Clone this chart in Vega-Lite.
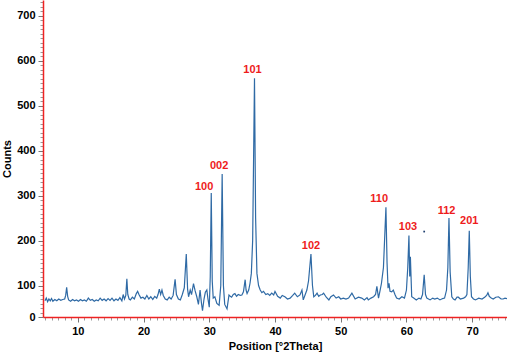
{
  "$schema": "https://vega.github.io/schema/vega-lite/v6.json",
  "autosize": {"type": "none"},
  "width": 464,
  "height": 317,
  "padding": {"left": 43, "top": 0, "right": 0, "bottom": 40},
  "background": "white",
  "config": {"view": {"stroke": null}, "font": "Liberation Sans"},
  "datasets": {
    "xrd": [
      {"t":5.0,"c":66},{"t":5.2,"c":72},{"t":5.4,"c":64},{"t":5.6,"c":70},{"t":5.8,"c":66},{"t":6.0,"c":71},{"t":6.2,"c":65},{"t":6.5,"c":69},{"t":6.8,"c":66},{"t":7.1,"c":70},{"t":7.4,"c":67},{"t":7.7,"c":69},{"t":8.0,"c":70},{"t":8.15,"c":78},{"t":8.3,"c":96},{"t":8.45,"c":76},{"t":8.6,"c":68},{"t":8.9,"c":65},{"t":9.2,"c":69},{"t":9.5,"c":66},{"t":9.8,"c":68},{"t":10.1,"c":65},{"t":10.4,"c":69},{"t":10.7,"c":66},{"t":11.0,"c":68},{"t":11.3,"c":65},{"t":11.6,"c":72},{"t":11.9,"c":67},{"t":12.2,"c":69},{"t":12.5,"c":65},{"t":12.8,"c":68},{"t":13.1,"c":66},{"t":13.4,"c":72},{"t":13.7,"c":67},{"t":14.0,"c":70},{"t":14.3,"c":66},{"t":14.6,"c":71},{"t":14.9,"c":67},{"t":15.2,"c":72},{"t":15.5,"c":66},{"t":15.8,"c":70},{"t":16.1,"c":67},{"t":16.4,"c":73},{"t":16.7,"c":66},{"t":16.9,"c":80},{"t":17.1,"c":70},{"t":17.3,"c":78},{"t":17.46,"c":115},{"t":17.6,"c":80},{"t":17.8,"c":70},{"t":18.0,"c":68},{"t":18.3,"c":74},{"t":18.6,"c":70},{"t":18.9,"c":82},{"t":19.1,"c":87},{"t":19.3,"c":80},{"t":19.6,"c":72},{"t":19.9,"c":74},{"t":20.2,"c":70},{"t":20.5,"c":78},{"t":20.8,"c":70},{"t":21.1,"c":75},{"t":21.4,"c":69},{"t":21.7,"c":76},{"t":22.0,"c":72},{"t":22.2,"c":80},{"t":22.4,"c":92},{"t":22.6,"c":80},{"t":22.8,"c":90},{"t":23.0,"c":78},{"t":23.3,"c":70},{"t":23.6,"c":68},{"t":23.9,"c":74},{"t":24.2,"c":70},{"t":24.5,"c":78},{"t":24.8,"c":114},{"t":25.0,"c":80},{"t":25.3,"c":70},{"t":25.6,"c":68},{"t":25.9,"c":80},{"t":26.2,"c":95},{"t":26.5,"c":170},{"t":26.7,"c":92},{"t":26.85,"c":75},{"t":27.1,"c":90},{"t":27.3,"c":80},{"t":27.6,"c":104},{"t":27.85,"c":88},{"t":28.1,"c":75},{"t":28.35,"c":58},{"t":28.6,"c":90},{"t":28.8,"c":62},{"t":28.97,"c":44},{"t":29.2,"c":70},{"t":29.4,"c":85},{"t":29.63,"c":90},{"t":29.8,"c":70},{"t":30.0,"c":52},{"t":30.15,"c":120},{"t":30.3,"c":306},{"t":30.45,"c":110},{"t":30.6,"c":72},{"t":30.85,"c":75},{"t":31.15,"c":60},{"t":31.5,"c":56},{"t":31.75,"c":100},{"t":31.96,"c":348},{"t":32.15,"c":100},{"t":32.35,"c":58},{"t":32.7,"c":48},{"t":33.0,"c":79},{"t":33.2,"c":76},{"t":33.4,"c":74},{"t":33.65,"c":80},{"t":33.9,"c":82},{"t":34.15,"c":76},{"t":34.4,"c":80},{"t":34.7,"c":78},{"t":34.96,"c":79},{"t":35.2,"c":86},{"t":35.46,"c":113},{"t":35.6,"c":90},{"t":35.75,"c":82},{"t":36.0,"c":90},{"t":36.2,"c":105},{"t":36.4,"c":127},{"t":36.6,"c":200},{"t":36.88,"c":561},{"t":37.05,"c":250},{"t":37.25,"c":127},{"t":37.5,"c":100},{"t":37.75,"c":90},{"t":38.0,"c":84},{"t":38.25,"c":87},{"t":38.6,"c":80},{"t":38.9,"c":82},{"t":39.2,"c":78},{"t":39.5,"c":83},{"t":39.8,"c":79},{"t":40.0,"c":87},{"t":40.4,"c":76},{"t":40.8,"c":72},{"t":41.1,"c":78},{"t":41.5,"c":75},{"t":41.9,"c":70},{"t":42.3,"c":72},{"t":42.7,"c":78},{"t":43.0,"c":83},{"t":43.4,"c":75},{"t":43.8,"c":79},{"t":44.1,"c":90},{"t":44.3,"c":68},{"t":44.6,"c":80},{"t":44.85,"c":90},{"t":45.1,"c":110},{"t":45.47,"c":170},{"t":45.7,"c":100},{"t":45.9,"c":75},{"t":46.15,"c":78},{"t":46.4,"c":83},{"t":46.65,"c":76},{"t":46.9,"c":79},{"t":47.2,"c":80},{"t":47.4,"c":83},{"t":47.8,"c":74},{"t":48.2,"c":68},{"t":48.5,"c":75},{"t":48.9,"c":79},{"t":49.3,"c":72},{"t":49.7,"c":75},{"t":50.0,"c":70},{"t":50.4,"c":72},{"t":50.8,"c":70},{"t":51.2,"c":72},{"t":51.7,"c":83},{"t":52.2,"c":70},{"t":52.7,"c":74},{"t":53.2,"c":72},{"t":53.6,"c":68},{"t":54.0,"c":73},{"t":54.2,"c":68},{"t":54.6,"c":72},{"t":55.0,"c":75},{"t":55.3,"c":80},{"t":55.5,"c":98},{"t":55.75,"c":72},{"t":56.0,"c":90},{"t":56.2,"c":105},{"t":56.5,"c":140},{"t":56.88,"c":274},{"t":57.05,"c":150},{"t":57.2,"c":94},{"t":57.35,"c":105},{"t":57.5,"c":87},{"t":57.75,"c":86},{"t":58.0,"c":90},{"t":58.25,"c":80},{"t":58.5,"c":72},{"t":58.9,"c":70},{"t":59.3,"c":75},{"t":59.7,"c":72},{"t":60.0,"c":90},{"t":60.2,"c":140},{"t":60.38,"c":211},{"t":60.5,"c":120},{"t":60.6,"c":164},{"t":60.8,"c":75},{"t":61.1,"c":72},{"t":61.5,"c":68},{"t":61.9,"c":72},{"t":62.2,"c":70},{"t":62.45,"c":80},{"t":62.7,"c":124},{"t":62.9,"c":80},{"t":63.1,"c":72},{"t":63.6,"c":68},{"t":64.0,"c":72},{"t":64.3,"c":70},{"t":64.7,"c":72},{"t":65.1,"c":68},{"t":65.5,"c":71},{"t":65.8,"c":72},{"t":66.1,"c":90},{"t":66.3,"c":140},{"t":66.47,"c":250},{"t":66.65,"c":130},{"t":66.9,"c":75},{"t":67.15,"c":70},{"t":67.4,"c":68},{"t":67.7,"c":74},{"t":67.9,"c":74},{"t":68.2,"c":70},{"t":68.7,"c":72},{"t":69.0,"c":75},{"t":69.2,"c":80},{"t":69.4,"c":140},{"t":69.56,"c":222},{"t":69.72,"c":120},{"t":69.9,"c":75},{"t":70.2,"c":70},{"t":70.5,"c":68},{"t":71.0,"c":72},{"t":71.5,"c":70},{"t":71.9,"c":74},{"t":72.2,"c":78},{"t":72.4,"c":84},{"t":72.6,"c":76},{"t":72.9,"c":72},{"t":73.2,"c":70},{"t":73.6,"c":74},{"t":74.0,"c":75},{"t":74.4,"c":70},{"t":74.7,"c":70},{"t":75.0,"c":72},{"t":75.3,"c":71}
    ],
    "labels": [
      {"t":29.22,"c":320,"lab":"100"},
      {"t":31.5,"c":366,"lab":"002"},
      {"t":36.58,"c":580,"lab":"101"},
      {"t":45.47,"c":188,"lab":"102"},
      {"t":55.86,"c":293,"lab":"110"},
      {"t":60.23,"c":230,"lab":"103"},
      {"t":66.1,"c":265,"lab":"112"},
      {"t":69.56,"c":244,"lab":"201"}
    ],
    "dots": [{"t":62.7,"c":220}]
  },
  "layer": [
    {
      "data": {"name": "xrd"},
      "mark": {"type": "point", "opacity": 0},
      "encoding": {
        "x": {"field": "t", "type": "quantitative", "scale": {"domain": [4.7, 75.3], "nice": false, "zero": false},
              "axis": {"orient": "bottom", "values": [5,6,7,8,9,11,12,13,14,15,16,17,18,19,21,22,23,24,25,26,27,28,29,31,32,33,34,35,36,37,38,39,41,42,43,44,45,46,47,48,49,51,52,53,54,55,56,57,58,59,61,62,63,64,65,66,67,68,69,71,72,73,74,75],
                       "labels": false, "title": null, "domain": false, "grid": false, "tickSize": 3, "tickColor": "#9a9a9a", "tickWidth": 1}},
        "y": {"field": "c", "type": "quantitative", "scale": {"domain": [30, 735], "nice": false, "zero": false},
              "axis": {"orient": "left", "values": [40,50,60,70,80,90,110,120,130,140,150,160,170,180,190,210,220,230,240,250,260,270,280,290,310,320,330,340,350,360,370,380,390,410,420,430,440,450,460,470,480,490,510,520,530,540,550,560,570,580,590,610,620,630,640,650,660,670,680,690,710,720,730],
                       "labels": false, "title": null, "domain": false, "grid": false, "tickSize": 3, "tickColor": "#9a9a9a", "tickWidth": 1}}
      }
    },
    {
      "data": {"name": "xrd"},
      "mark": {"type": "line", "color": "#2f6aa5", "strokeWidth": 1.2, "interpolate": "linear"},
      "encoding": {
        "x": {"field": "t", "type": "quantitative",
              "axis": {"orient": "bottom", "values": [10,20,30,40,50,60,70], "title": "Position [°2Theta]", "grid": false,
                       "domainColor": "#ee2222", "domainWidth": 1.5, "tickColor": "#777777", "tickSize": 5, "labelPadding": 3,
                       "labelFont": "Liberation Sans", "labelFontWeight": "bold", "labelFontSize": 11, "labelColor": "#000000",
                       "titleFont": "Liberation Sans", "titleFontWeight": "bold", "titleFontSize": 11, "titleColor": "#000000", "titlePadding": 4, "titleAnchor": "middle", "titleX": 232}},
        "y": {"field": "c", "type": "quantitative",
              "axis": {"orient": "left", "values": [30,100,200,300,400,500,600,700], "labelExpr": "datum.value < 50 ? '0' : datum.label", "title": "Counts", "grid": false,
                       "domainColor": "#ee2222", "domainWidth": 1.5, "tickColor": "#777777", "tickSize": 5, "labelPadding": 3,
                       "labelFont": "Liberation Sans", "labelFontWeight": "bold", "labelFontSize": 11, "labelColor": "#000000",
                       "titleFont": "Liberation Sans", "titleFontWeight": "bold", "titleFontSize": 11, "titleColor": "#000000", "titlePadding": 4}}
      }
    },
    {
      "data": {"name": "labels"},
      "mark": {"type": "text", "color": "#ee1c1c", "fontWeight": "bold", "fontSize": 11, "font": "Liberation Sans", "baseline": "middle", "align": "center"},
      "encoding": {
        "x": {"field": "t", "type": "quantitative", "axis": null},
        "y": {"field": "c", "type": "quantitative", "axis": null},
        "text": {"field": "lab", "type": "nominal"}
      }
    },
    {
      "data": {"name": "dots"},
      "mark": {"type": "square", "color": "#1f3f6f", "size": 3, "filled": true, "opacity": 1},
      "encoding": {
        "x": {"field": "t", "type": "quantitative", "axis": null},
        "y": {"field": "c", "type": "quantitative", "axis": null}
      }
    }
  ],
  "resolve": {"axis": {"x": "independent", "y": "independent"}}
}
